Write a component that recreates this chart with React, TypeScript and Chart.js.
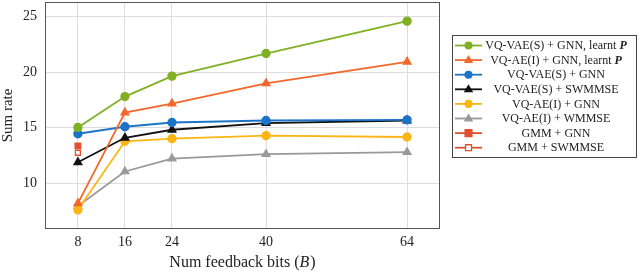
import React, { useEffect, useRef } from "react";
import { Chart, registerables } from "chart.js";

Chart.register(...registerables);

const xValues = [8, 16, 24, 40, 64];
const xTickValues = [8, 16, 24, 40, 64];
const yTickValues = [10, 15, 20, 25];

const vqvaeGnnLearnt = [15.03, 17.8, 19.64, 21.67, 24.58];
const vqaeGnnLearnt = [8.2, 16.37, 17.17, 18.99, 20.92];
const vqvaeGnn = [14.46, 15.09, 15.47, 15.65, 15.71];
const vqvaeSwmmse = [11.9, 14.1, 14.82, 15.42, 15.65];
const vqaeGnn = [7.62, 13.78, 14.02, 14.29, 14.17];
const vqaeWmmse = [7.97, 11.07, 12.23, 12.62, 12.8];
const gmmGnnX = [8];
const gmmGnn = [13.35];
const gmmSwmmseX = [8];
const gmmSwmmse = [12.75];

const FONT = "'Liberation Serif', 'Times New Roman', serif";

type Series = {
  label: string;
  bold?: string;
  xs: number[];
  ys: number[];
  color: string;
  style: "circle" | "triangle" | "rect";
  open?: boolean;
  radius: number;
};

const series: Series[] = [
  { label: "VQ-VAE(S) + GNN, learnt ", bold: "P", xs: xValues, ys: vqvaeGnnLearnt, color: "#80b023", style: "circle", radius: 4 },
  { label: "VQ-AE(I) + GNN, learnt ", bold: "P", xs: xValues, ys: vqaeGnnLearnt, color: "#f4672a", style: "triangle", radius: 4.5 },
  { label: "VQ-VAE(S) + GNN", xs: xValues, ys: vqvaeGnn, color: "#1b74c8", style: "circle", radius: 4 },
  { label: "VQ-VAE(S) + SWMMSE", xs: xValues, ys: vqvaeSwmmse, color: "#111111", style: "triangle", radius: 4.5 },
  { label: "VQ-AE(I) + GNN", xs: xValues, ys: vqaeGnn, color: "#fcb514", style: "circle", radius: 4 },
  { label: "VQ-AE(I) + WMMSE", xs: xValues, ys: vqaeWmmse, color: "#999999", style: "triangle", radius: 4.5 },
  { label: "GMM + GNN", xs: gmmGnnX, ys: gmmGnn, color: "#e0502f", style: "rect", radius: 4 },
  { label: "GMM + SWMMSE", xs: gmmSwmmseX, ys: gmmSwmmse, color: "#e0502f", style: "rect", open: true, radius: 3.5 },
];

const CHART_LEFT = 45;
const CHART_RIGHT = 440;
const CHART_TOP = 2;
const CHART_BOTTOM = 229;
const W = 640;
const H = 273;

function drawMarker(ctx: CanvasRenderingContext2D, s: Series, x: number, y: number) {
  ctx.save();
  ctx.fillStyle = s.open ? "#ffffff" : s.color;
  ctx.strokeStyle = s.color;
  ctx.lineWidth = 1.3;
  ctx.beginPath();
  const r = s.radius;
  if (s.style === "circle") {
    ctx.arc(x, y, r, 0, Math.PI * 2);
  } else if (s.style === "triangle") {
    ctx.moveTo(x, y - r);
    ctx.lineTo(x + r * 0.95, y + r * 0.6);
    ctx.lineTo(x - r * 0.95, y + r * 0.6);
    ctx.closePath();
  } else {
    ctx.rect(x - r, y - r, 2 * r, 2 * r);
  }
  ctx.fill();
  ctx.stroke();
  ctx.restore();
}

const framePlugin = {
  id: "frameAndLegend",
  afterDraw(chart: any) {
    const ctx: CanvasRenderingContext2D = chart.ctx;
    const a = chart.chartArea;
    ctx.save();
    // frame
    ctx.strokeStyle = "#555555";
    ctx.lineWidth = 1;
    ctx.strokeRect(a.left + 0.5, a.top + 0.5, a.right - a.left - 1, a.bottom - a.top - 1);

    // axis titles
    ctx.fillStyle = "#222222";
    ctx.textBaseline = "middle";
    ctx.textAlign = "left";
    const fs = 16;
    const t1 = "Num feedback bits (";
    const t2 = "B";
    const t3 = ")";
    ctx.font = `${fs}px ${FONT}`;
    const w1 = ctx.measureText(t1).width;
    const w3 = ctx.measureText(t3).width;
    ctx.font = `italic ${fs}px ${FONT}`;
    const w2 = ctx.measureText(t2).width;
    const total = w1 + w2 + w3 + 1;
    let cx = (a.left + a.right) / 2 - total / 2;
    const ty = 263;
    ctx.font = `${fs}px ${FONT}`;
    ctx.fillText(t1, cx, ty);
    cx += w1;
    ctx.font = `italic ${fs}px ${FONT}`;
    ctx.fillText(t2, cx, ty);
    cx += w2 + 1;
    ctx.font = `${fs}px ${FONT}`;
    ctx.fillText(t3, cx, ty);

    ctx.save();
    ctx.translate(8, (a.top + a.bottom) / 2);
    ctx.rotate(-Math.PI / 2);
    ctx.textAlign = "center";
    ctx.font = `15px ${FONT}`;
    ctx.fillText("Sum rate", 0, 0);
    ctx.restore();

    // legend
    const lx = 452.5, ly = 35.5, lw = 184, lh = 122;
    ctx.fillStyle = "#ffffff";
    ctx.fillRect(lx, ly, lw, lh);
    ctx.strokeStyle = "#444444";
    ctx.lineWidth = 1;
    ctx.strokeRect(lx, ly, lw, lh);
    const rowStart = 45.5;
    const rowStep = 14.6;
    const lfs = 12;
    series.forEach((s, i) => {
      const y = rowStart + i * rowStep;
      ctx.strokeStyle = s.color;
      ctx.lineWidth = 1.8;
      ctx.beginPath();
      ctx.moveTo(455, y);
      ctx.lineTo(482, y);
      ctx.stroke();
      drawMarker(ctx, { ...s, radius: s.radius * 0.85 }, 468.5, y);
      ctx.fillStyle = "#222222";
      ctx.textBaseline = "middle";
      ctx.textAlign = "left";
      ctx.font = `${lfs}px ${FONT}`;
      const wa = ctx.measureText(s.label).width;
      let wb = 0;
      if (s.bold) {
        ctx.font = `italic bold ${lfs}px ${FONT}`;
        wb = ctx.measureText(s.bold).width;
      }
      const tx = 556 - (wa + wb) / 2;
      ctx.font = `${lfs}px ${FONT}`;
      ctx.fillText(s.label, tx, y + 0.5);
      if (s.bold) {
        ctx.font = `italic bold ${lfs}px ${FONT}`;
        ctx.fillText(s.bold, tx + wa, y + 0.5);
      }
    });
    ctx.restore();
  },
};

export default function App() {
  const ref = useRef<HTMLCanvasElement>(null);
  useEffect(() => {
    if (!ref.current) return;
    const datasets = series.map((s) => ({
      label: s.label + (s.bold || ""),
      data: s.xs.map((x, i) => ({ x, y: s.ys[i] })),
      borderColor: s.color,
      backgroundColor: s.open ? "#ffffff" : s.color,
      pointBackgroundColor: s.open ? "#ffffff" : s.color,
      pointBorderColor: s.color,
      pointStyle: s.style,
      pointRadius: s.radius,
      pointBorderWidth: 1.3,
      borderWidth: 1.8,
      showLine: true,
      fill: false,
      tension: 0,
    }));
    const chart = new Chart(ref.current, {
      type: "scatter",
      data: { datasets: datasets as any },
      options: {
        responsive: false,
        animation: false,
        layout: { padding: { left: 0, right: W - CHART_RIGHT, top: 0, bottom: 0 } },
        plugins: { legend: { display: false }, tooltip: { enabled: false } },
        scales: {
          x: {
            type: "linear",
            min: 2.4,
            max: 69.6,
            afterBuildTicks: (scale: any) => {
              scale.ticks = xTickValues.map((v) => ({ value: v }));
            },
            afterFit: (scale: any) => {
              scale.height = H - CHART_BOTTOM;
              scale.paddingLeft = 0;
              scale.paddingRight = 0;
            },
            grid: { color: "#dddddd", lineWidth: 1, drawTicks: false },
            border: { display: false },
            ticks: {
              color: "#222222",
              font: { family: FONT, size: 14 },
              padding: 5,
              maxRotation: 0,
              autoSkip: false,
            },
          },
          y: {
            type: "linear",
            min: 5.9,
            max: 26.3,
            afterBuildTicks: (scale: any) => {
              scale.ticks = yTickValues.map((v) => ({ value: v }));
            },
            afterFit: (scale: any) => {
              scale.width = CHART_LEFT;
              scale.paddingTop = 0;
              scale.paddingBottom = 0;
            },
            grid: { color: "#dddddd", lineWidth: 1, drawTicks: false },
            border: { display: false },
            ticks: {
              color: "#222222",
              font: { family: FONT, size: 14 },
              padding: 8,
            },
          },
        },
      },
      plugins: [
        framePlugin,
        {
          id: "forceArea",
          afterLayout(chart: any) {
            // keep plot area at the reference position
            const a = chart.chartArea;
            if (Math.abs(a.top - CHART_TOP) > 0.01) {
              a.top = CHART_TOP;
              const y = chart.scales.y;
              y.top = CHART_TOP;
              y.height = y.bottom - y.top;
              y.configure();
            }
          },
        },
      ],
    });
    return () => chart.destroy();
  }, []);
  return (
    <div style={{ position: "fixed", left: 0, top: 0, width: W, height: H, background: "#ffffff" }}>
      <canvas ref={ref} width={W} height={H} style={{ width: W, height: H, display: "block" }} />
    </div>
  );
}
